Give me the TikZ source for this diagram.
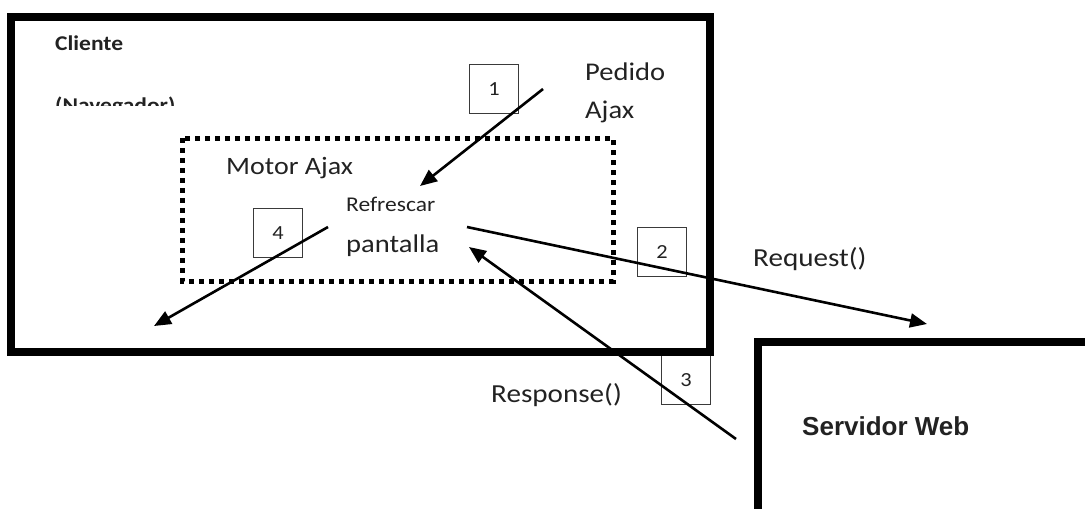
\documentclass[tikz,border=0pt]{standalone}
\usepackage{fontspec}
\usetikzlibrary{arrows.meta}
\newfontfamily\labelfont[FakeStretch=1.12]{Carlito}
\newfontfamily\serverfont{Liberation Sans}
\definecolor{ink}{HTML}{222222}
\definecolor{boxgray}{HTML}{3A3A3A}
\tikzset{
  frame/.style={draw=black, line width=8pt, line join=miter},
  engine/.style={draw=black, line width=5pt, dash pattern=on 5pt off 5pt},
  stepbox/.style={draw=boxgray, line width=1.8pt, minimum width=49pt, minimum height=49pt,
    inner sep=0pt, font=\labelfont\fontsize{20}{20}\selectfont, text=ink},
  lbl/.style={anchor=base west, inner sep=0pt, text=ink},
  flow/.style={draw=black, line width=2.6pt, -{Triangle[length=17pt,width=14pt]}},
}
\begin{document}
\begin{tikzpicture}[x=1pt,y=-1pt]
\useasboundingbox (0,0) rectangle (1085,509);

% client and server frames
\draw[frame] (11,17) rectangle (710,352);
\draw[frame] (1090,342) -- (758,342) -- (758,515);

% Ajax engine
\draw[engine] (182,138) rectangle (613,281);

% texts
\node[lbl, font=\labelfont\bfseries\fontsize{21}{21}\selectfont] (cliente) at (55,50) {Cliente};
\begin{scope}
  \clip (40,80) rectangle (300,105);
  \node[lbl, font=\labelfont\bfseries\fontsize{21}{21}\selectfont] (navegador) at (55,112) {(Navegador)};
\end{scope}
\node[lbl, font=\labelfont\fontsize{25}{25}\selectfont] (motor) at (226,174) {Motor Ajax};
\node[lbl, font=\labelfont\fontsize{21}{21}\selectfont] (refrescar) at (346,211) {Refrescar};
\node[lbl, font=\labelfont\fontsize{25.5}{25.5}\selectfont] (pantalla) at (346,252) {pantalla};
\node[lbl, font=\labelfont\fontsize{25.5}{25.5}\selectfont] (pedido) at (585,80) {Pedido};
\node[lbl, font=\labelfont\fontsize{25.5}{25.5}\selectfont] (ajax) at (585,118) {Ajax};
\node[lbl, font=\labelfont\fontsize{26}{26}\selectfont] (request) at (753,266) {Request()};
\node[lbl, font=\labelfont\fontsize{26}{26}\selectfont] (response) at (491,402) {Response()};
\node[lbl, font=\serverfont\bfseries\fontsize{26}{26}\selectfont] (servidor) at (802,435) {Servidor Web};

% numbered step boxes
\node[stepbox] (s1) at (494,89) {1};
\node[stepbox] (s4) at (278,233) {4};
\node[stepbox] (s2) at (662,252) {2};
\node[stepbox] (s3) at (686,380) {3};

% redraw client bottom edge over box 3
\draw[frame] (640,352) -- (710,352) -- (710,300);

% message flow
\coordinate (p1a) at (543,89);   \coordinate (p1b) at (420,186);
\coordinate (p2a) at (467,227);  \coordinate (p2b) at (927,324);
\coordinate (p3a) at (736,439);  \coordinate (p3b) at (469,247);
\coordinate (p4a) at (328,227);  \coordinate (p4b) at (154,326);
\draw[flow] (p1a) -- (p1b);
\draw[flow] (p2a) -- (p2b);
\draw[flow] (p3a) -- (p3b);
\draw[flow] (p4a) -- (p4b);
\end{tikzpicture}
\end{document}
